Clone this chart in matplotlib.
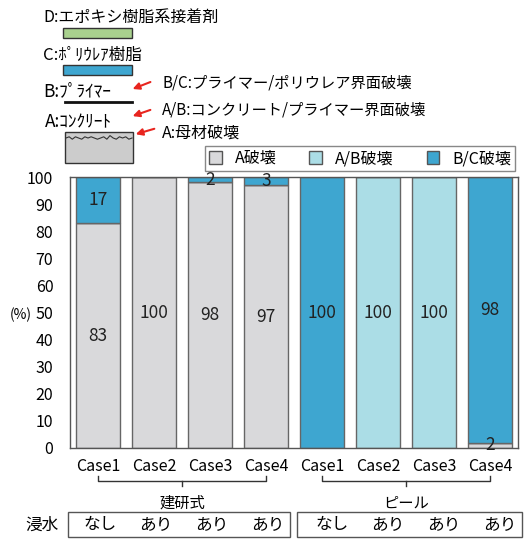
import numpy as np
import matplotlib
matplotlib.use('Agg')
import matplotlib.pyplot as plt
from matplotlib.patches import Rectangle, Patch

plt.rcParams['font.family'] = ['Noto Sans CJK JP', 'DejaVu Sans']
plt.rcParams['font.size'] = 11

# === データ ===
cases = ['Case1', 'Case2', 'Case3', 'Case4', 'Case1', 'Case2', 'Case3', 'Case4']
fail_a = [83, 100, 98, 97, 0, 0, 0, 2]
fail_ab = [0, 0, 0, 0, 0, 100, 100, 0]
fail_bc = [17, 0, 2, 3, 100, 0, 0, 98]
groups = ['建研式', 'ピール']
immersion = ['なし', 'あり', 'あり', 'あり', 'なし', 'あり', 'あり', 'あり']
series_names = ['A破壊', 'A/B破壊', 'B/C破壊']
colors = ['#d9d9db', '#abdde6', '#3ea6d0']
edge = '#666666'

W, H = 524, 539
fig = plt.figure(figsize=(W / 100, H / 100), dpi=100)

# === 棒グラフ ===
ax = fig.add_axes([70 / W, 1 - 448 / H, 448 / W, 271 / H])
x = np.arange(len(cases))
bottom = np.zeros(len(cases))
for vals, c in zip([fail_a, fail_ab, fail_bc], colors):
    vals = np.array(vals)
    bars = ax.bar(x, vals, 0.8, bottom=bottom, color=c, edgecolor=edge, linewidth=1)
    ax.bar_label(bars, labels=[str(v) if v > 0 else '' for v in vals],
                 label_type='center', fontsize=12.5, color='#222222')
    bottom += vals

ax.set_xlim(-0.5, len(cases) - 0.5)
ax.set_ylim(0, 100)
ax.set_yticks(range(0, 101, 10))
ax.set_xticks(x)
ax.set_xticklabels(cases)
ax.tick_params(axis='both', length=0, labelsize=11.5)
ax.tick_params(axis='y', pad=12)
ax.tick_params(axis='x', pad=7)
for s in ax.spines.values():
    s.set_color('#555555')
    s.set_linewidth(1)
fig.text(10 / W, 1 - 315 / H, '(%)', fontsize=10, va='center', ha='left')

# 凡例
handles = [Patch(facecolor=c, edgecolor='#555555', label=n) for c, n in zip(colors, series_names)]
fig.legend(handles=handles, loc='lower left', ncol=3, mode='expand',
           bbox_to_anchor=(205 / W, 1 - 171 / H, 310 / W, 26 / H),
           fancybox=False, edgecolor='#888888', framealpha=1,
           handlelength=0.8, handleheight=0.8, handletextpad=0.8,
           borderaxespad=0, fontsize=11.5, borderpad=0.25)

# === 上の説明図・下の注記 (ピクセル座標) ===
ov = fig.add_axes([0, 0, 1, 1])
ov.set_xlim(0, W)
ov.set_ylim(H, 0)
ov.axis('off')
ov.set_facecolor('none')

ov.text(43, 17, 'D:エポキシ樹脂系接着剤', va='center', ha='left', fontsize=11.5)
ov.add_patch(Rectangle((63, 28), 69, 10, facecolor='#a9d18e', edgecolor='#333333', lw=1))
ov.text(43, 55, 'C:ﾎﾟﾘｳﾚｱ樹脂', va='center', ha='left', fontsize=12)
ov.add_patch(Rectangle((63, 65), 69, 10, facecolor='#3ea6d0', edgecolor='#333333', lw=1))
ov.text(43, 91, 'B:ﾌﾟﾗｲﾏｰ', va='center', ha='left', fontsize=12.5)
ov.plot([65, 132], [102, 102], color='#111111', lw=2)
ov.text(45, 122, 'A:ｺﾝｸﾘｰﾄ', va='center', ha='left', fontsize=12.5)
ov.add_patch(Rectangle((65, 132), 68, 31, facecolor='#cccccc', edgecolor='#333333', lw=1))
wave = [0, -1, 1, -1, 0, 1, -1, 0, -1, 0, 1, 0, -1, 1, -2, 0, 1, -1, 0, -1, 1, 0]
ov.plot(np.linspace(66, 132, len(wave)), 138 + np.array(wave) * 1.2, color='#333333', lw=0.8)

arrow = dict(arrowstyle='-|>', color='#e8251f', lw=1.5, mutation_scale=10)
ov.annotate('', xy=(130, 90), xytext=(153, 81), arrowprops=arrow)
ov.annotate('', xy=(130, 117), xytext=(153, 109), arrowprops=arrow)
ov.annotate('', xy=(133, 135), xytext=(157, 128), arrowprops=arrow)
ov.text(162, 83, 'B/C:プライマー/ポリウレア界面破壊', va='center', ha='left', fontsize=11)
ov.text(162, 110, 'A/B:コンクリート/プライマー界面破壊', va='center', ha='left', fontsize=11)
ov.text(162, 133, 'A:母材破壊', va='center', ha='left', fontsize=11.5)

# 括弧とグループ名
cx = [70 + 56 * (i + 0.5) for i in range(len(cases))]
for g, (i0, i1) in zip(groups, [(0, 3), (4, 7)]):
    x0, x1 = cx[i0], cx[i1]
    xm = (x0 + x1) / 2
    ov.plot([x0, x0, x1, x1], [476, 481, 481, 476], color='#333333', lw=1)
    ov.plot([xm, xm], [481, 486], color='#333333', lw=1)
    ov.text(xm, 503, g, ha='center', va='center', fontsize=11)

# 浸水の枠
ov.text(42, 525, '浸水', ha='center', va='center', fontsize=12)
ov.add_patch(Rectangle((68, 512), 222, 25, facecolor='none', edgecolor='#555555', lw=1))
ov.add_patch(Rectangle((297, 512), 225, 25, facecolor='none', edgecolor='#555555', lw=1))
for i, t in enumerate(immersion):
    off = 2 if i < 4 else 10
    ov.text(cx[i] + off, 525, t, ha='center', va='center', fontsize=12)

fig.savefig('out.png', dpi=100)
